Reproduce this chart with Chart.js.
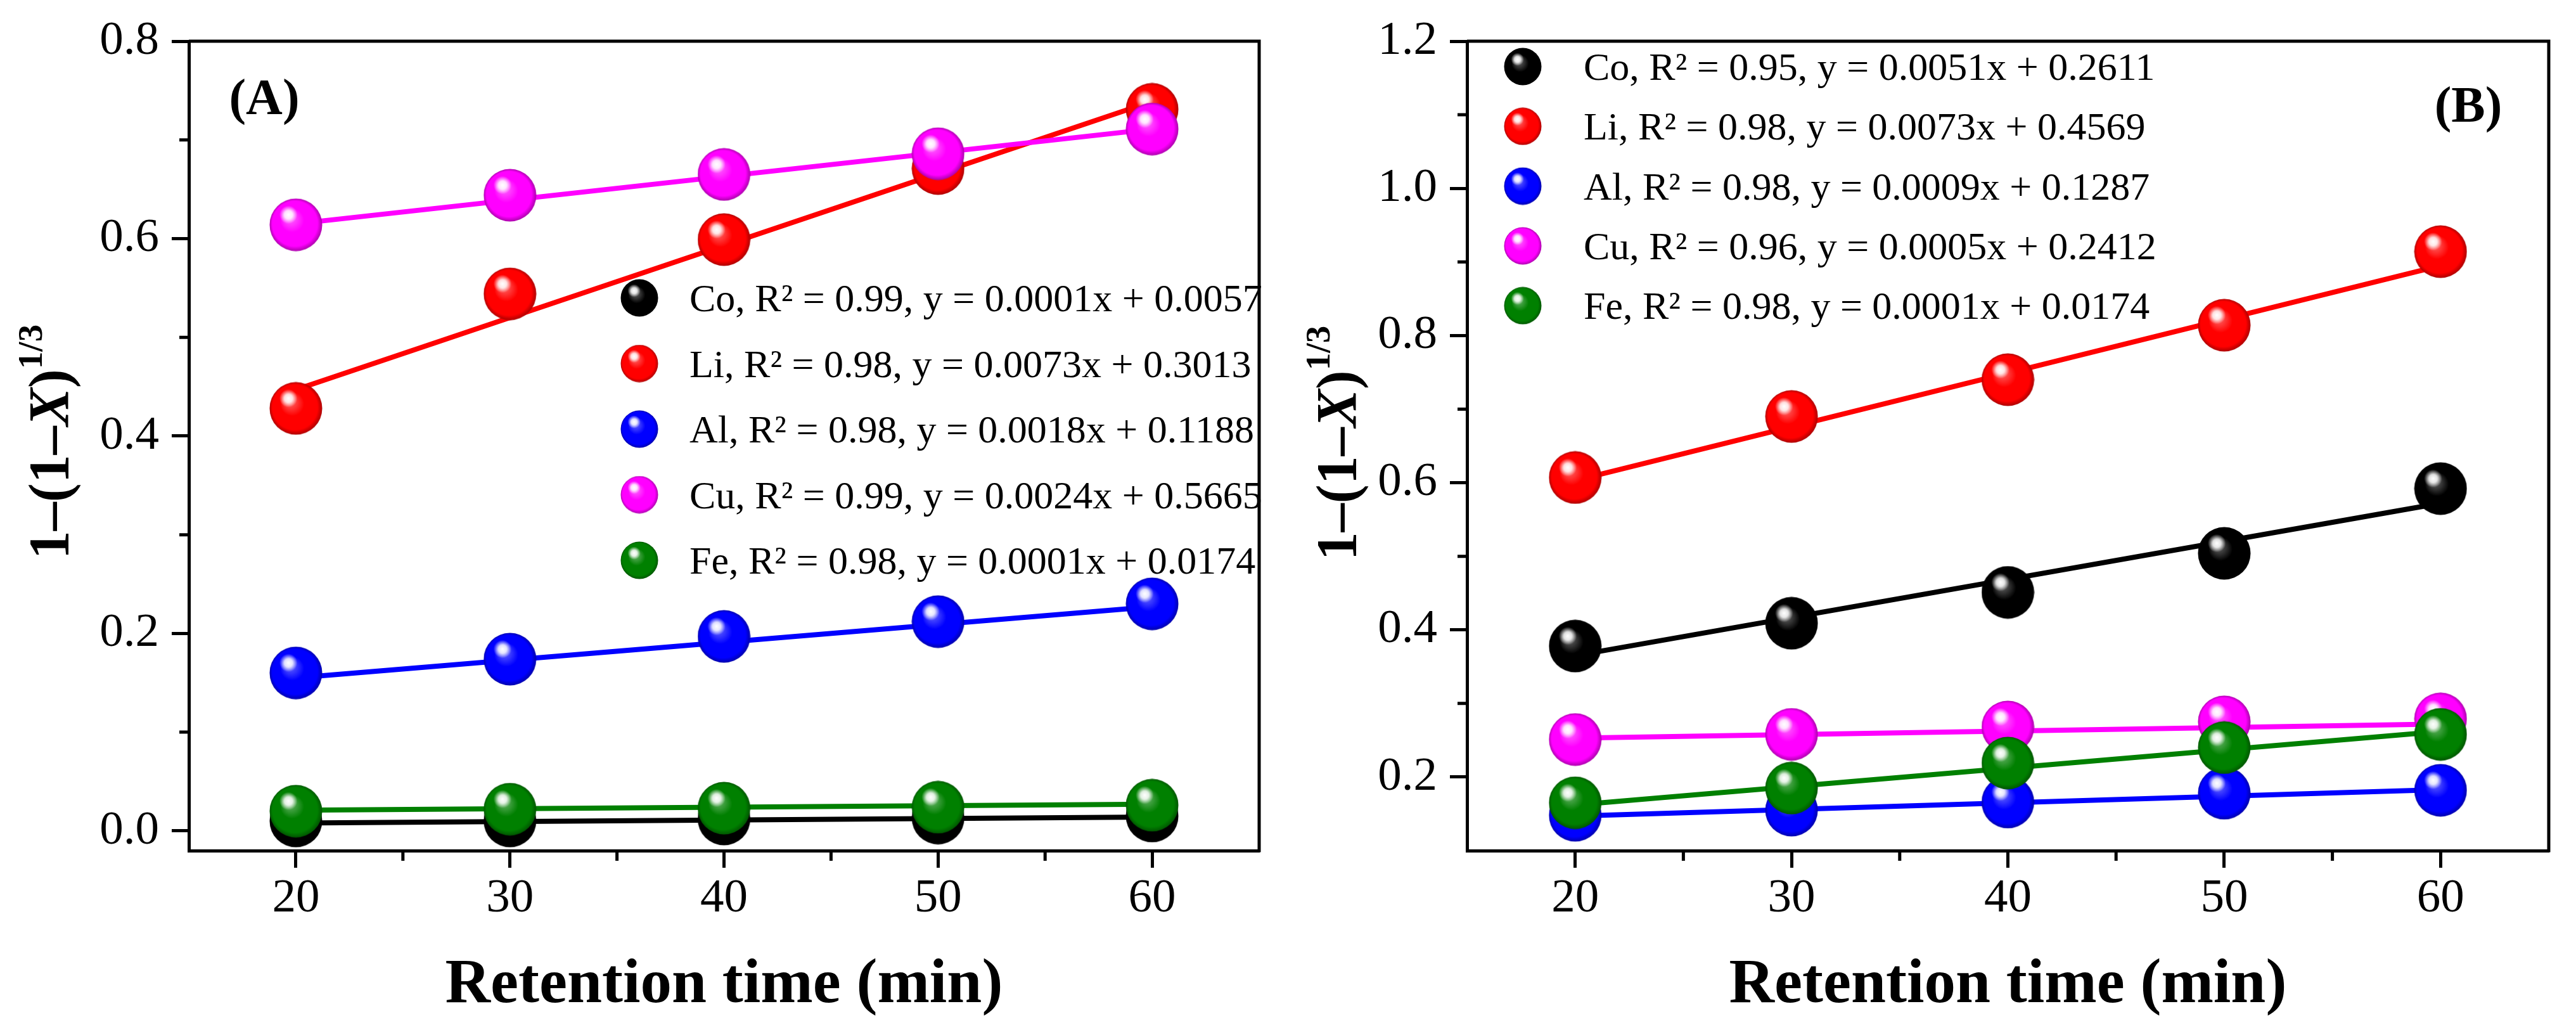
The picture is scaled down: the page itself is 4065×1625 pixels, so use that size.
<!DOCTYPE html>
<html>
<head>
<meta charset="utf-8">
<title>Retention time kinetics</title>
<script src="https://cdn.jsdelivr.net/npm/chart.js@4.4.1/dist/chart.umd.min.js"></script>
<style>
  body { margin: 0; background: #fff; }
  #wrap { position: relative; width: 4065px; height: 1625px; }
  canvas { position: absolute; top: 0; }
</style>
</head>
<body>
<div id="wrap">
  <canvas id="chartA" width="2030" height="1625" style="left:0"></canvas>
  <canvas id="chartB" width="2035" height="1625" style="left:2030px"></canvas>
</div>
<script>
// ---- data ----
const times = [20, 30, 40, 50, 60];
const fitTimes = [20, 60];
const elements = ['Co', 'Li', 'Al', 'Cu', 'Fe'];

// panel A
const coA = [0.010, 0.010, 0.012, 0.013, 0.015];
const liA = [0.428, 0.544, 0.599, 0.671, 0.731];
const alA = [0.160, 0.174, 0.197, 0.212, 0.230];
const cuA = [0.614, 0.644, 0.665, 0.686, 0.711];
const feA = [0.020, 0.022, 0.023, 0.024, 0.026];
// fitted lines A (value at 20 and 60 min)
const coFitA = [0.008, 0.014];
const liFitA = [0.447, 0.739];
const alFitA = [0.155, 0.227];
const cuFitA = [0.615, 0.711];
const feFitA = [0.021, 0.027];
const labelsA = [
  'Co, R\u00b2 = 0.99, y = 0.0001x + 0.0057',
  'Li, R\u00b2 = 0.98, y = 0.0073x + 0.3013',
  'Al, R\u00b2 = 0.98, y = 0.0018x + 0.1188',
  'Cu, R\u00b2 = 0.99, y = 0.0024x + 0.5665',
  'Fe, R\u00b2 = 0.98, y = 0.0001x + 0.0174'
];

// panel B
const coB = [0.378, 0.409, 0.451, 0.504, 0.592];
const liB = [0.607, 0.690, 0.740, 0.814, 0.914];
const alB = [0.148, 0.155, 0.166, 0.178, 0.182];
const cuB = [0.251, 0.258, 0.268, 0.275, 0.279];
const feB = [0.165, 0.185, 0.219, 0.240, 0.258];
const coFitB = [0.365, 0.572];
const liFitB = [0.603, 0.895];
const alFitB = [0.147, 0.183];
const cuFitB = [0.253, 0.272];
const feFitB = [0.162, 0.262];
const labelsB = [
  'Co, R\u00b2 = 0.95, y = 0.0051x + 0.2611',
  'Li, R\u00b2 = 0.98, y = 0.0073x + 0.4569',
  'Al, R\u00b2 = 0.98, y = 0.0009x + 0.1287',
  'Cu, R\u00b2 = 0.96, y = 0.0005x + 0.2412',
  'Fe, R\u00b2 = 0.98, y = 0.0001x + 0.0174'
];

// ticks
const xTicks = [20, 30, 40, 50, 60];
const xMinor = [25, 35, 45, 55];
const yTicksA = [0.0, 0.2, 0.4, 0.6, 0.8];
const yMinorA = [0.1, 0.3, 0.5, 0.7];
const yTicksB = [0.2, 0.4, 0.6, 0.8, 1.0, 1.2];
const yMinorB = [0.3, 0.5, 0.7, 0.9, 1.1];

// ---- styles ----
const colors = ['#000000', '#ff0000', '#0000ff', '#ff00ff', '#008000'];
const SERIF = '"Liberation Serif", "Times New Roman", serif';
Chart.defaults.font.family = SERIF;
Chart.defaults.color = '#000';

function mix(hex, target, t) {
  const n = parseInt(hex.slice(1), 16);
  const c = [(n >> 16) & 255, (n >> 8) & 255, n & 255];
  const m = c.map(v => Math.round(v + (target - v) * t));
  return `rgb(${m[0]},${m[1]},${m[2]})`;
}

// glossy ball used as point style
function makeBall(color, d) {
  const c = document.createElement('canvas');
  c.width = d; c.height = d;
  const g = c.getContext('2d');
  const r = d / 2;
  const base = g.createRadialGradient(r * 0.75, r * 0.7, 0, r, r, r);
  base.addColorStop(0, mix(color, 255, 0.45));
  base.addColorStop(0.45, color);
  base.addColorStop(0.85, color);
  base.addColorStop(1, mix(color, 0, 0.35));
  g.fillStyle = base;
  g.beginPath(); g.arc(r, r, r - 0.5, 0, Math.PI * 2); g.fill();
  const hl = g.createRadialGradient(r * 0.72, r * 0.62, 0, r * 0.72, r * 0.62, r * 0.34);
  hl.addColorStop(0, 'rgba(255,255,255,1)');
  hl.addColorStop(0.45, 'rgba(255,255,255,0.85)');
  hl.addColorStop(1, 'rgba(255,255,255,0)');
  g.fillStyle = hl;
  g.beginPath(); g.arc(r, r, r - 0.5, 0, Math.PI * 2); g.fill();
  return c;
}

const balls = colors.map(c => makeBall(c, 84));
const legendBalls = colors.map(c => makeBall(c, 60));

function buildDatasets(series, fits, labels) {
  const ds = [];
  series.forEach((vals, i) => {
    ds.push({
      type: 'line',
      label: labels[i] + ' fit',
      data: fitTimes.map((t, k) => ({ x: t, y: fits[i][k] })),
      borderColor: colors[i],
      borderWidth: 8,
      pointRadius: 0,
      fill: false,
      order: 21 - 2 * i
    });
    ds.push({
      type: 'scatter',
      label: labels[i],
      data: times.map((t, k) => ({ x: t, y: vals[k] })),
      pointStyle: balls[i],
      pointRadius: 42,
      showLine: false,
      order: 20 - 2 * i
    });
  });
  return ds;
}

function drawYTitle(ctx, bx, cy) {
  const parts = [
    ['1\u2013(1\u2013', 'bold 90px ' + SERIF, 0],
    ['X', 'italic bold 90px ' + SERIF, 0],
    [')', 'bold 90px ' + SERIF, 0],
    ['1/3', 'bold 55px ' + SERIF, -42]
  ];
  ctx.save();
  ctx.translate(bx, cy);
  ctx.rotate(-Math.PI / 2);
  ctx.fillStyle = '#000';
  ctx.textBaseline = 'alphabetic';
  ctx.textAlign = 'left';
  let total = 0;
  parts.forEach(p => { ctx.font = p[1]; total += ctx.measureText(p[0]).width; });
  let px = -total / 2;
  parts.forEach(p => {
    ctx.font = p[1];
    ctx.fillText(p[0], px, p[2]);
    px += ctx.measureText(p[0]).width;
  });
  ctx.restore();
}

// frame, minor ticks, legend, panel tag, y title
const decor = {
  id: 'decor',
  afterDraw(chart, args, o) {
    const { ctx, chartArea: a, scales: { x, y } } = chart;
    ctx.save();
    ctx.strokeStyle = '#000';
    ctx.lineWidth = 5;
    ctx.beginPath();
    ctx.moveTo(a.left, a.top);
    ctx.lineTo(a.right, a.top);
    ctx.lineTo(a.right, a.bottom + 2.5);
    ctx.stroke();

    ctx.beginPath();
    o.minorX.forEach(v => {
      const px = x.getPixelForValue(v);
      ctx.moveTo(px, a.bottom); ctx.lineTo(px, a.bottom + 16);
    });
    o.minorY.forEach(v => {
      const py = y.getPixelForValue(v);
      ctx.moveTo(a.left, py); ctx.lineTo(a.left - 15, py);
    });
    ctx.stroke();

    // legend for the ball series
    ctx.font = '62px ' + SERIF;
    ctx.fillStyle = '#000';
    ctx.textAlign = 'left';
    ctx.textBaseline = 'alphabetic';
    o.labels.forEach((t, i) => {
      const ry = o.legend.firstRow + i * o.legend.rowStep;
      ctx.drawImage(legendBalls[i], o.legend.markerX - 30, ry - 30);
      ctx.fillText(t, o.legend.textX, ry + 21);
    });

    ctx.font = 'bold 80px ' + SERIF;
    ctx.textAlign = 'center';
    ctx.fillText(o.tag.text, o.tag.x, o.tag.y);

    drawYTitle(ctx, o.yTitle.x, o.yTitle.y);
    ctx.restore();
  }
};

function makeChart(id, series, fits, labels, yMin, yMax, yTicks, yMinor, yWidth, padRight, extra) {
  return new Chart(document.getElementById(id), {
    type: 'scatter',
    data: { datasets: buildDatasets(series, fits, labels) },
    options: {
      responsive: false,
      animation: false,
      devicePixelRatio: 1,
      events: [],
      layout: { padding: { left: 0, top: 59, right: padRight, bottom: 0 } },
      plugins: {
        legend: { display: false },
        tooltip: { enabled: false },
        decor: Object.assign({ minorX: xMinor, minorY: yMinor, labels: labels }, extra)
      },
      scales: {
        x: {
          type: 'linear',
          min: 15, max: 65,
          afterBuildTicks: s => { s.ticks = xTicks.map(v => ({ value: v })); },
          afterFit: s => { s.height = 283; },
          ticks: { font: { size: 75 }, padding: 4, color: '#000', callback: v => String(v) },
          grid: { drawOnChartArea: false, drawTicks: true, tickLength: 27, tickWidth: 5, tickColor: '#000' },
          border: { display: true, color: '#000', width: 5 },
          title: {
            display: true, text: 'Retention time (min)', color: '#000',
            font: { size: 99, weight: 'bold' }, padding: { top: 0, bottom: 10 }
          }
        },
        y: {
          type: 'linear',
          min: yMin, max: yMax,
          afterBuildTicks: s => { s.ticks = yTicks.map(v => ({ value: v })); },
          afterFit: s => { s.width = yWidth; },
          ticks: { font: { size: 75 }, padding: 20, color: '#000', callback: v => v.toFixed(1) },
          grid: { drawOnChartArea: false, drawTicks: true, tickLength: 27, tickWidth: 5, tickColor: '#000' },
          border: { display: true, color: '#000', width: 5 }
        }
      }
    },
    plugins: [decor]
  });
}

makeChart('chartA',
  [coA, liA, alA, cuA, feA], [coFitA, liFitA, alFitA, cuFitA, feFitA], labelsA,
  -0.02, 0.8, yTicksA, yMinorA, 298, 7,
  {
    legend: { markerX: 1009, textX: 1088, firstRow: 470, rowStep: 103.5 },
    tag: { text: '(A)', x: 417, y: 180 },
    yTitle: { x: 108, y: 697 }
  });

makeChart('chartB',
  [coB, liB, alB, cuB, feB], [coFitB, liFitB, alFitB, cuFitB, feFitB], labelsB,
  0.1, 1.2, yTicksB, yMinorB, 285, 26,
  {
    legend: { markerX: 373, textX: 469, firstRow: 105, rowStep: 94.3 },
    tag: { text: '(B)', x: 1865, y: 192 },
    yTitle: { x: 110, y: 699 }
  });
</script>
</body>
</html>
